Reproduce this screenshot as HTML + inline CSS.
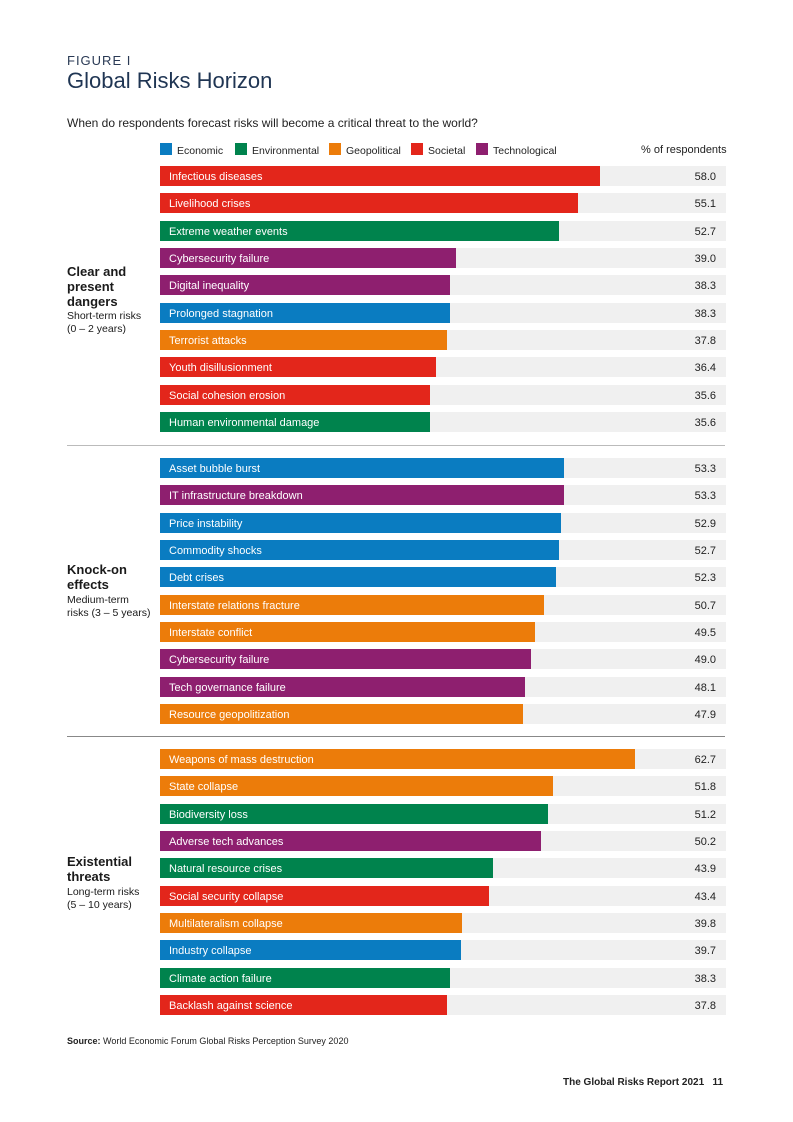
<!DOCTYPE html>
<html><head><meta charset="utf-8"><style>
body{margin:0;background:#fff;font-family:"Liberation Sans",sans-serif;}
#page{position:relative;width:793px;height:1122px;overflow:hidden;}
.abs{position:absolute;}
.lab{position:absolute;color:#fff;font-size:11px;line-height:20px;white-space:nowrap;}
.val{position:absolute;font-size:11px;line-height:20px;color:#222;text-align:right;width:60px;}
.gt{position:absolute;left:67px;font-size:13px;font-weight:bold;color:#1a1a1a;line-height:15px;}
.gs{position:absolute;left:67px;font-size:10.5px;color:#1a1a1a;line-height:13px;}
.leg{position:absolute;top:143px;font-size:10.5px;color:#222;line-height:13px;}
.leg i{display:inline-block;width:12px;height:12px;vertical-align:-1px;margin-right:5px;}
</style></head><body><div id="page">
<div class="abs" style="left:67px;top:53px;font-size:13px;letter-spacing:1px;color:#2a3a55">FIGURE I</div>
<div class="abs" style="left:67px;top:68px;font-size:22px;color:#1f3553">Global Risks Horizon</div>
<div class="abs" style="left:67px;top:116px;font-size:12px;color:#222">When do respondents forecast risks will become a critical threat to the world?</div>
<div class="leg" style="left:160px"><i style="background:#0a7cc1"></i>Economic</div>
<div class="leg" style="left:235px"><i style="background:#00834d"></i>Environmental</div>
<div class="leg" style="left:329px"><i style="background:#ec7c0a"></i>Geopolitical</div>
<div class="leg" style="left:411px"><i style="background:#e3261b"></i>Societal</div>
<div class="leg" style="left:476px"><i style="background:#8e1f6f"></i>Technological</div>
<div class="abs" style="left:641px;top:144px;font-size:11px;color:#222">% of respondents</div>

<div class="gt" style="top:264px">Clear and<br>present<br>dangers</div>
<div class="gs" style="top:310px">Short-term risks<br>(0 – 2 years)</div>
<div class="gt" style="top:562px">Knock-on<br>effects</div>
<div class="gs" style="top:594px">Medium-term<br>risks (3 – 5 years)</div>
<div class="gt" style="top:854px">Existential<br>threats</div>
<div class="gs" style="top:886px">Long-term risks<br>(5 – 10 years)</div>
<div class="abs" style="left:67px;top:445px;width:658px;height:1px;background:#bbb"></div>
<div class="abs" style="left:67px;top:736px;width:658px;height:1px;background:#888"></div>
<div id="bars"></div>
<div class="abs" style="left:67px;top:1036px;font-size:9px;color:#222"><b>Source:</b> World Economic Forum Global Risks Perception Survey 2020</div>
<div class="abs" style="left:563px;top:1077px;font-size:10px;font-weight:bold;color:#222">The Global Risks Report 2021 &nbsp;&nbsp;11</div>
</div>
<script>
const labels=["Infectious diseases","Livelihood crises","Extreme weather events","Cybersecurity failure","Digital inequality","Prolonged stagnation","Terrorist attacks","Youth disillusionment","Social cohesion erosion","Human environmental damage",
"Asset bubble burst","IT infrastructure breakdown","Price instability","Commodity shocks","Debt crises","Interstate relations fracture","Interstate conflict","Cybersecurity failure","Tech governance failure","Resource geopolitization",
"Weapons of mass destruction","State collapse","Biodiversity loss","Adverse tech advances","Natural resource crises","Social security collapse","Multilateralism collapse","Industry collapse","Climate action failure","Backlash against science"];
const values=[58.0,55.1,52.7,39.0,38.3,38.3,37.8,36.4,35.6,35.6,53.3,53.3,52.9,52.7,52.3,50.7,49.5,49.0,48.1,47.9,62.7,51.8,51.2,50.2,43.9,43.4,39.8,39.7,38.3,37.8];
const categories=["S","S","N","T","T","E","G","S","S","N","E","T","E","E","E","G","G","T","T","G","G","G","N","T","N","S","G","E","N","S"];
const colors={E:"#0a7cc1",N:"#00834d",G:"#ec7c0a",S:"#e3261b",T:"#8e1f6f"};
const x0=160,scale=7.58,trackW=566;
const groupTop=[166,458,749],rowH=27.35;
const c=document.getElementById('bars');
for(let i=0;i<values.length;i++){
 const g=Math.floor(i/10),r=i%10;
 const y=groupTop[g]+r*rowH;
 const t=document.createElement('div');t.className='abs';
 
 
 t.style.cssText=`left:${x0}px;top:${y}px;width:${trackW}px;height:20px;background:#f0f0f0`;c.appendChild(t);
 const b=document.createElement('div');b.className='abs';
 
 
 b.style.cssText=`left:${x0}px;top:${y}px;width:${values[i]*scale}px;height:20px;background:${colors[categories[i]]}`;c.appendChild(b);
 const l=document.createElement('div');l.className='lab';
 
 
 l.style.left=(x0+9)+'px';l.style.top=(y+1)+'px';l.textContent=labels[i];c.appendChild(l);
 const v=document.createElement('div');v.className='val';
 
 
 v.style.left=(716-60)+'px';v.style.top=(y+1)+'px';v.textContent=values[i].toFixed(1);c.appendChild(v);
}
</script></body></html>
